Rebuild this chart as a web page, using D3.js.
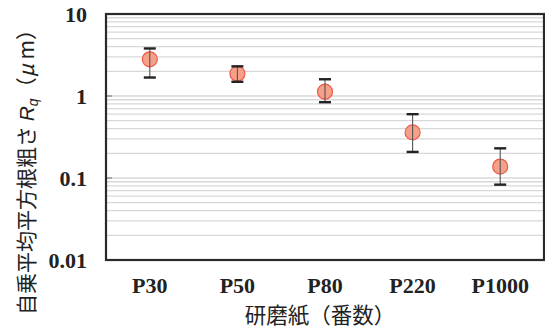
<!DOCTYPE html>
<html><head><meta charset="utf-8">
<script src="https://cdn.jsdelivr.net/npm/d3@7"></script>
<style>body{margin:0;background:#fff}</style>
</head><body>
<svg id="c" width="545" height="329"></svg>
<script>
const categories = ["P30","P50","P80","P220","P1000"];
const values = [2.8, 1.87, 1.13, 0.36, 0.138];
const upper  = [3.8, 2.3, 1.6, 0.6, 0.23];
const lower  = [1.68, 1.49, 0.84, 0.208, 0.083];
const yTicks = [0.01, 0.1, 1, 10];
const yTickLabels = ["0.01","0.1","1","10"];

const svg = d3.select("#c");
const L=106, R=544, T=14, B=260;
const x = d3.scalePoint().domain(categories).range([L,R]).padding(0.5);
const y = d3.scaleLog().domain([0.01,10]).range([B,T]);

// minor grid
const grid = [];
for (let d=0.01; d<10; d*=10) for (let k=1;k<=9;k++) grid.push(+(d*k).toPrecision(3));
svg.append("g").selectAll("line").data(grid.filter(v=>v>0.01 && v<10)).join("line")
  .attr("x1",L).attr("x2",R).attr("y1",d=>y(d)).attr("y2",d=>y(d))
  .attr("stroke","#d8d8d8").attr("stroke-width",1.3);

// decade tick marks
svg.append("g").selectAll("line").data(yTicks.slice(1,3)).join("line")
  .attr("x1",L).attr("x2",L+6).attr("y1",d=>y(d)).attr("y2",d=>y(d))
  .attr("stroke","#888").attr("stroke-width",1.3);

// frame
svg.append("rect").attr("x",L).attr("y",T).attr("width",R-L).attr("height",B-T)
  .attr("fill","none").attr("stroke","#2a2a2a").attr("stroke-width",2.2);

// y tick labels
svg.append("g").selectAll("text").data(yTicks).join("text")
  .attr("x",87).attr("y",d=>y(d)).attr("dy","0.35em").attr("text-anchor","end")
  .attr("font-family","Liberation Serif, Times New Roman, serif").attr("font-weight","bold")
  .attr("font-size",22).attr("fill","#222").text((d,i)=>yTickLabels[i]);

// x tick labels
svg.append("g").selectAll("text").data(categories).join("text")
  .attr("x",d=>x(d)).attr("y",293).attr("text-anchor","middle")
  .attr("font-family","Liberation Serif, Times New Roman, serif").attr("font-weight","bold")
  .attr("font-size",22).attr("fill","#222").text(d=>d);

// points
const data = categories.map((c,i)=>({c,v:values[i],u:upper[i],l:lower[i]}));
const g = svg.append("g");
g.selectAll("circle").data(data).join("circle")
  .attr("cx",d=>x(d.c)).attr("cy",d=>y(d.v)).attr("r",7.5)
  .attr("fill","#f5a088").attr("stroke","#ee5a48").attr("stroke-width",1.2);
g.selectAll("line.v").data(data).join("line").attr("class","v")
  .attr("x1",d=>x(d.c)).attr("x2",d=>x(d.c)).attr("y1",d=>y(d.u)).attr("y2",d=>y(d.l))
  .attr("stroke","#555").attr("stroke-width",1.1);
g.selectAll("line.u").data(data).join("line").attr("class","u")
  .attr("x1",d=>x(d.c)-6).attr("x2",d=>x(d.c)+6).attr("y1",d=>y(d.u)).attr("y2",d=>y(d.u))
  .attr("stroke","#222").attr("stroke-width",2.4);
g.selectAll("line.l").data(data).join("line").attr("class","l")
  .attr("x1",d=>x(d.c)-6).attr("x2",d=>x(d.c)+6).attr("y1",d=>y(d.l)).attr("y2",d=>y(d.l))
  .attr("stroke","#222").attr("stroke-width",2.4);

// axis titles
svg.append("text").attr("x",320).attr("y",323).attr("text-anchor","middle")
  .attr("font-family","Noto Sans CJK JP, sans-serif").attr("font-size",21.5).attr("fill","#222")
  .text("研磨紙（番数）");

const yt = svg.append("text").attr("transform","translate(34,167) rotate(-90)")
  .attr("text-anchor","middle")
  .attr("font-family","Noto Sans CJK JP, sans-serif").attr("font-size",21).attr("fill","#222");
yt.append("tspan").text("自乗平均平方根粗さ ");
yt.append("tspan").attr("font-style","italic").attr("font-family","Liberation Sans, Arial, sans-serif").text("R");
yt.append("tspan").attr("font-style","italic").attr("font-family","Liberation Sans, Arial, sans-serif").attr("font-size",14).attr("dy",4).text("q");
yt.append("tspan").attr("dy",-4).text("（");
yt.append("tspan").attr("font-style","italic").text("μ");
yt.append("tspan").text(" m）");
</script>
</body></html>
